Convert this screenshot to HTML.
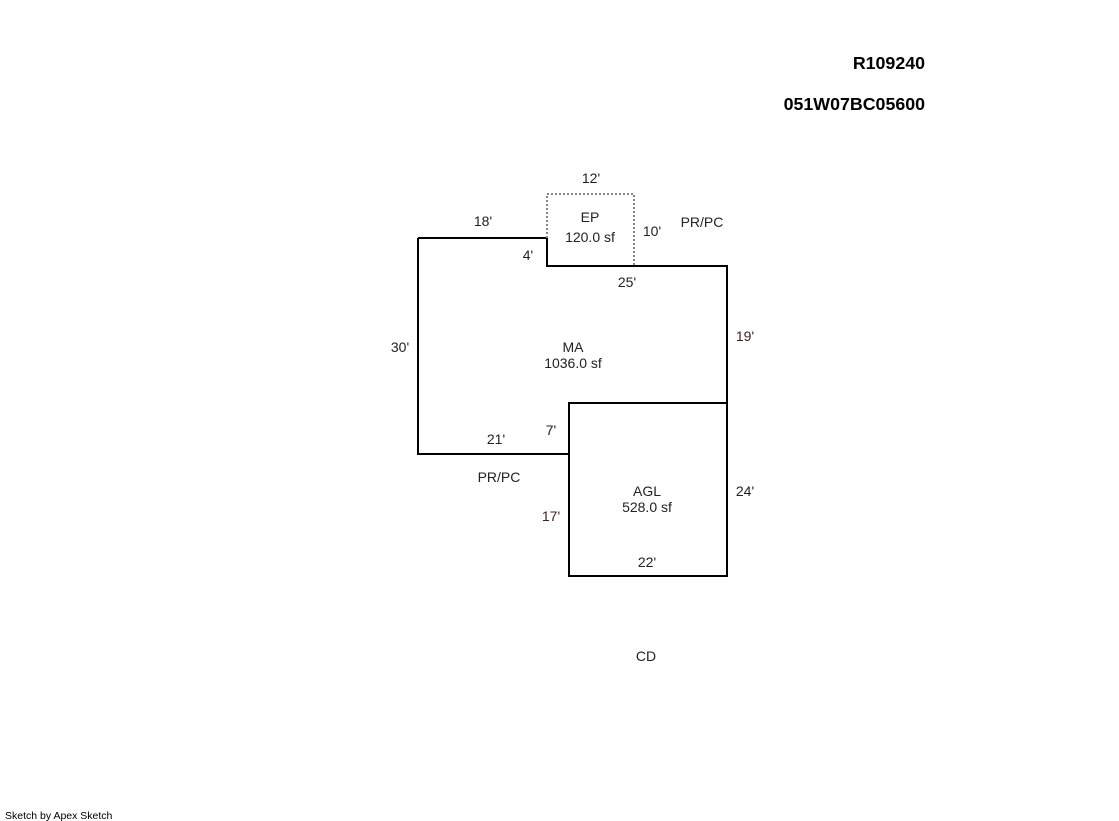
<!DOCTYPE html>
<html><head><style>
body{margin:0;background:#fff;width:1119px;height:821px;overflow:hidden}
svg{position:absolute;left:0;top:0}
text{font-family:"Liberation Sans",Arial,sans-serif;font-size:14px;fill:#222}
</style></head><body>
<svg width="1119" height="821" xmlns="http://www.w3.org/2000/svg">
<g fill="none" stroke="#000" stroke-width="2">
<polyline points="418,238 547,238 547,266 727,266 727,576 569,576 569,454 418,454 418,238"/>
<polyline points="569,454 569,403 727,403"/>
</g>
<polyline points="547,238 547,194 634,194 634,266" fill="none" stroke="#888" stroke-width="2" stroke-dasharray="2,2"/>
<text x="925" y="69" text-anchor="end" style="font-weight:bold;font-size:17.8px;fill:#000">R109240</text>
<text x="925" y="110" text-anchor="end" style="font-weight:bold;font-size:17.8px;fill:#000">051W07BC05600</text>
<text x="591" y="183" text-anchor="middle">12'</text>
<text x="483" y="226" text-anchor="middle">18'</text>
<text x="590" y="222" text-anchor="middle">EP</text>
<text x="590" y="242" text-anchor="middle">120.0 sf</text>
<text x="652" y="236" text-anchor="middle">10'</text>
<text x="702" y="227" text-anchor="middle">PR/PC</text>
<text x="528" y="260" text-anchor="middle">4'</text>
<text x="627" y="287" text-anchor="middle">25'</text>
<text x="400" y="352" text-anchor="middle">30'</text>
<text x="573" y="352" text-anchor="middle">MA</text>
<text x="573" y="368" text-anchor="middle">1036.0 sf</text>
<text x="745" y="341" text-anchor="middle" style="fill:#402020">19'</text>
<text x="551" y="435" text-anchor="middle">7'</text>
<text x="496" y="444" text-anchor="middle">21'</text>
<text x="499" y="482" text-anchor="middle">PR/PC</text>
<text x="647" y="496" text-anchor="middle">AGL</text>
<text x="647" y="512" text-anchor="middle">528.0 sf</text>
<text x="745" y="496" text-anchor="middle">24'</text>
<text x="551" y="521" text-anchor="middle" style="fill:#402020">17'</text>
<text x="647" y="567" text-anchor="middle">22'</text>
<text x="646" y="661" text-anchor="middle">CD</text>
<text x="5" y="819" style="font-size:10.5px;fill:#000">Sketch by Apex Sketch</text>
</svg>
</body></html>
